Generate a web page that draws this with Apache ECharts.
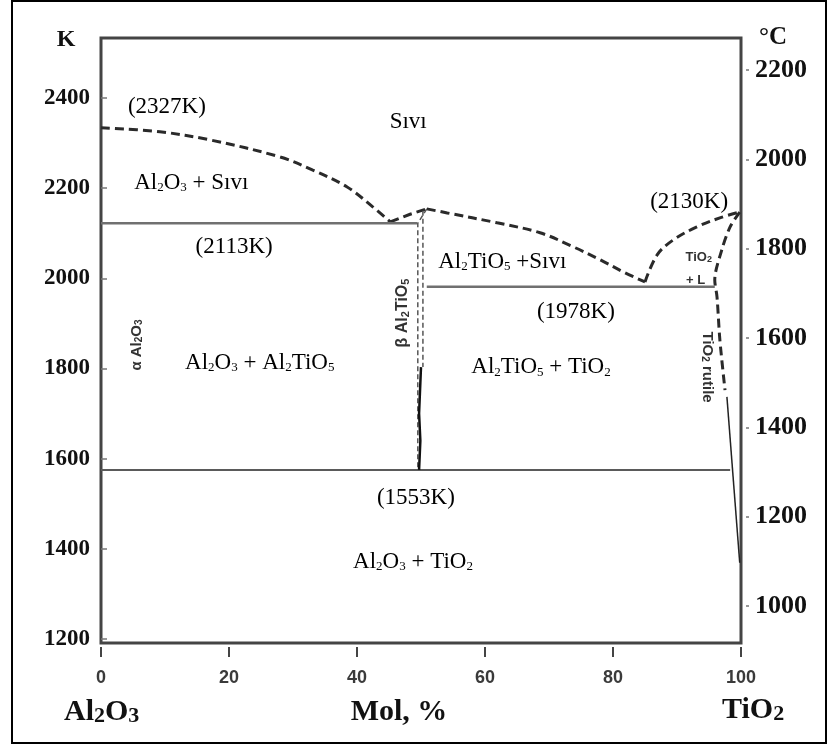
<!DOCTYPE html>
<html>
<head>
<meta charset="utf-8">
<script src="https://cdn.jsdelivr.net/npm/echarts@6/dist/echarts.min.js"></script>
<style>html,body{margin:0;padding:0;background:#fff}#c{width:828px;height:747px}</style>
</head>
<body>
<div id="c"></div>
<script>
// ---- axes ----
const xTicks = [0, 20, 40, 60, 80, 100];
const kTicks = [1200, 1400, 1600, 1800, 2000, 2200, 2400];
const cTicks = [1000, 1200, 1400, 1600, 1800, 2000, 2200];
const kRange = [1191, 2533];
const cRange = [917, 2272];

// ---- phase boundaries (x = mol % TiO2, y = K) ----
const liquidusLeft = [[0, 2334], [9.2, 2325], [17.0, 2307], [28.0, 2269], [33.1, 2240], [38.4, 2203], [42.5, 2158], [45.2, 2125]];
const liquidusPeak = [[45.2, 2125], [48.3, 2142], [50.9, 2154]];
const liquidusRight = [[50.9, 2154], [54.1, 2145], [61.9, 2123], [68.6, 2101], [73.75, 2070], [78.0, 2041], [81.9, 2012], [85.0, 1992]];
const liquidusTiO2 = [[85.0, 1992], [86.9, 2052], [89.4, 2085], [93.1, 2114], [96.7, 2134], [99.8, 2147]];
const solidusTiO2 = [[99.8, 2147], [98.3, 2114], [97.0, 2063], [95.9, 1996], [96.25, 1959], [96.7, 1863], [97.5, 1752]];
const rutileLimit = [[97.8, 1737], [99.8, 1369]];
const eutectic2113 = [[0, 2122], [49.4, 2122]];
const eutectic1978 = [[50.9, 1981], [95.9, 1981]];
const decomp1553 = [[0, 1575], [98.3, 1575]];
const betaLeft = [[50.9, 2154], [49.5, 2122], [49.5, 1575]];
const betaRight = [[50.3, 2150], [50.3, 1803]];
const betaSolid = [[50.0, 1803], [49.7, 1700], [49.9, 1640], [49.7, 1575]];

// ---- region labels ----
const labelTexts = ['(2327K)', 'Sıvı', 'Al₂O₃ + Sıvı', '(2113K)', '(2130K)', 'Al₂TiO₅ +Sıvı', '(1978K)', 'Al₂O₃ + Al₂TiO₅', 'Al₂TiO₅ + TiO₂', '(1553K)', 'Al₂O₃ + TiO₂'];
const labelX = [10.3, 48.0, 14.1, 20.8, 91.9, 62.7, 74.2, 24.8, 68.75, 49.2, 48.75];
const labelK = [2380, 2347, 2212, 2070, 2169, 2036, 1925, 1812, 1803, 1513, 1371];

const phaseTexts = ['α Al₂O₃', 'β Al₂TiO₅', 'TiO₂ rutile', 'TiO₂', '+ L'];
const phaseX = [5.6, 47.2, 94.7, 93.4, 92.9];
const phaseK = [1852, 1923, 1803, 2047, 1995];
const phaseRotate = [90, 90, -90, 0, 0];
const phaseSize = [15, 16, 15, 13, 13];

function rich(t) {
  let out = '', buf = '';
  for (const ch of t) {
    const code = ch.charCodeAt(0);
    if (code >= 0x2080 && code <= 0x2089) {
      if (buf) { out += '{n|' + buf + '}'; buf = ''; }
      out += '{s|' + (code - 0x2080) + '}';
    } else buf += ch;
  }
  if (buf) out += '{n|' + buf + '}';
  return out;
}

const chart = echarts.init(document.getElementById('c'), null, {renderer: 'canvas'});
const dashedDark = {color: '#2a2a2a', width: 3, type: [9, 5]};
const solidGrey = {color: '#707070', width: 2.5, type: 'solid'};
function lineSeries(data, style, smooth) {
  return {type: 'line', data: data, showSymbol: false, symbol: 'none', silent: true, smooth: smooth || false, lineStyle: style, z: 3, animation: false};
}
const serif = 'Liberation Serif';
const sans = 'Liberation Sans';
const plain = v => String(v);

function textSeries(xs, ks, texts, styler) {
  return {
    type: 'custom', coordinateSystem: 'cartesian2d', silent: true, z: 5, animation: false,
    data: xs.map((x, i) => [x, ks[i]]),
    renderItem: (params, api) => {
      const p = api.coord([api.value(0), api.value(1)]);
      const i = params.dataIndex;
      const s = styler(i);
      return {
        type: 'text', x: p[0], y: p[1], rotation: (s.rotate || 0) * Math.PI / 180,
        style: {text: rich(texts[i]), textAlign: 'center', textVerticalAlign: 'middle', fill: s.color, rich: s.rich}
      };
    }
  };
}

const option = {
  animation: false,
  grid: {left: 101, right: 87, top: 38, bottom: 104, show: true, borderColor: '#444', borderWidth: 3, backgroundColor: 'transparent'},
  xAxis: {
    type: 'value', min: 0, max: 100, interval: 20, offset: 4,
    axisLine: {show: false}, splitLine: {show: false},
    axisTick: {show: true, length: 10, lineStyle: {color: '#444', width: 2}},
    axisLabel: {margin: 22, fontFamily: sans, fontWeight: 'bold', fontSize: 18, color: '#3a3a3a', formatter: plain, customValues: xTicks}
  },
  yAxis: [
    {
      type: 'value', min: kRange[0], max: kRange[1], position: 'left',
      axisLine: {show: false}, splitLine: {show: false},
      axisTick: {show: true, inside: true, length: 6, lineStyle: {color: '#777', width: 1.5}, customValues: kTicks},
      axisLabel: {margin: 11, fontFamily: serif, fontWeight: 'bold', fontSize: 23, color: '#111', formatter: plain, customValues: kTicks}
    },
    {
      type: 'value', min: cRange[0], max: cRange[1], position: 'right', offset: 5,
      axisLine: {show: false}, splitLine: {show: false},
      axisTick: {show: true, length: 3, lineStyle: {color: '#777', width: 1.5}, customValues: cTicks},
      axisLabel: {margin: 9, fontFamily: serif, fontWeight: 'bold', fontSize: 26, color: '#111', formatter: plain, customValues: cTicks}
    }
  ],
  series: [
    lineSeries(liquidusLeft, dashedDark, 0.35),
    lineSeries(liquidusPeak, dashedDark),
    lineSeries(liquidusRight, dashedDark, 0.35),
    lineSeries(liquidusTiO2, dashedDark, 0.35),
    lineSeries(solidusTiO2, dashedDark, 0.3),
    lineSeries(rutileLimit, {color: '#222', width: 1.5, type: 'solid'}),
    lineSeries(eutectic2113, solidGrey),
    lineSeries(eutectic1978, solidGrey),
    lineSeries(decomp1553, {color: '#5a5a5a', width: 2, type: 'solid'}),
    lineSeries(betaLeft, {color: '#555', width: 1.5, type: [5, 3]}),
    lineSeries(betaRight, {color: '#555', width: 1.5, type: [5, 3]}),
    lineSeries(betaSolid, {color: '#111', width: 2.5, type: 'solid'}),
    textSeries(labelX, labelK, labelTexts, () => ({
      color: '#000',
      rich: {
        n: {fontFamily: serif, fontSize: 23, fill: '#000', verticalAlign: 'bottom'},
        s: {fontFamily: serif, fontSize: 13, fill: '#000', verticalAlign: 'bottom'}
      }
    })),
    textSeries(phaseX, phaseK, phaseTexts, i => ({
      rotate: phaseRotate[i], color: '#333',
      rich: {
        n: {fontFamily: sans, fontSize: phaseSize[i], fontWeight: 'bold', fill: '#333', verticalAlign: 'bottom'},
        s: {fontFamily: sans, fontSize: Math.round(phaseSize[i] * 0.68), fontWeight: 'bold', fill: '#333', verticalAlign: 'bottom'}
      }
    }))
  ],
  graphic: [
    {type: 'rect', silent: true, shape: {x: 12, y: 1, width: 814, height: 742}, style: {fill: 'none', stroke: '#000', lineWidth: 2}},
    {type: 'text', silent: true, x: 66, y: 40, style: {text: 'K', font: 'bold 24px "Liberation Serif"', fill: '#111', textAlign: 'center', textVerticalAlign: 'middle'}},
    {type: 'text', silent: true, x: 759, y: 38, style: {text: '°C', font: 'bold 25px "Liberation Serif"', fill: '#111', textAlign: 'left', textVerticalAlign: 'middle'}},
    {type: 'text', silent: true, x: 64, y: 712, style: {text: '{m|Al}{t|2}{m|O}{t|3}', textAlign: 'left', textVerticalAlign: 'middle',
      rich: {m: {fontFamily: serif, fontWeight: 'bold', fontSize: 30, fill: '#111', verticalAlign: 'bottom'}, t: {fontFamily: serif, fontWeight: 'bold', fontSize: 22, fill: '#111', verticalAlign: 'bottom'}}}},
    {type: 'text', silent: true, x: 399, y: 712, style: {text: 'Mol, %', font: 'bold 30px "Liberation Serif"', fill: '#111', textAlign: 'center', textVerticalAlign: 'middle'}},
    {type: 'text', silent: true, x: 722, y: 710, style: {text: '{m|TiO}{t|2}', textAlign: 'left', textVerticalAlign: 'middle',
      rich: {m: {fontFamily: serif, fontWeight: 'bold', fontSize: 30, fill: '#111', verticalAlign: 'bottom'}, t: {fontFamily: serif, fontWeight: 'bold', fontSize: 22, fill: '#111', verticalAlign: 'bottom'}}}}
  ]
};
chart.setOption(option);
</script>
</body>
</html>
